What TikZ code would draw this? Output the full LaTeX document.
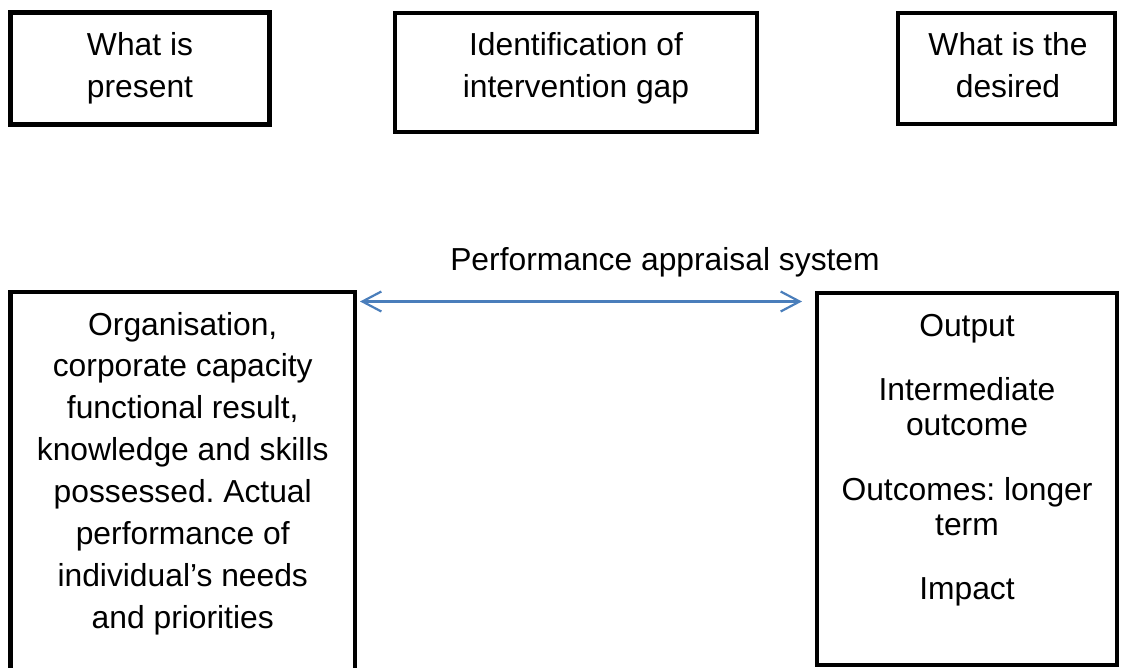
\documentclass[tikz,border=0pt]{standalone}
\usepackage{fontspec}
\setmainfont{Liberation Sans}
\usetikzlibrary{arrows.meta}
\definecolor{arrowblue}{HTML}{4A7EBB}
\frenchspacing
\begin{document}
\begin{tikzpicture}[x=1pt,y=-1pt,
  box/.style={draw=black, line width=4.5pt, inner sep=0pt, outer sep=0pt},
  txt/.style={inner sep=0pt, anchor=base, font=\fontsize{31.8}{42}\selectfont\frenchspacing},
  txtr/.style={inner sep=0pt, anchor=base, font=\fontsize{31.8}{35}\selectfont\frenchspacing},
  arr/.style={draw=arrowblue, line width=2.2pt,
    {Straight Barb[length=19pt,width=20pt]}-{Straight Barb[length=19pt,width=20pt]}}]
\useasboundingbox (0,0) rectangle (1121,667);
\clip (0,0) rectangle (1121,667);
% top row
\node[box, minimum width=259pt, minimum height=112pt] (present) at (140,68.5) {};
\node[txt] (presentT) at (140,55) {\begin{tabular}[t]{@{}c@{}}What is\\present\end{tabular}};
\node[box, minimum width=362pt, minimum height=119pt] (gap) at (576,72.5) {};
\node[txt] (gapT) at (576,55) {\begin{tabular}[t]{@{}c@{}}Identification of\\intervention gap\end{tabular}};
\node[box, minimum width=217pt, minimum height=111pt] (desired) at (1006.5,68.5) {};
\node[txt] (desiredT) at (1008,55) {\begin{tabular}[t]{@{}c@{}}What is the\\desired\end{tabular}};
% label
\node[txt] (pas) at (665,270) {Performance appraisal system};
% bottom row
\node[box, minimum width=344.5pt, minimum height=428pt] (leftbox) at (182.75,506) {};
\node[txt, font=\fontsize{31.8}{41.9}\selectfont\frenchspacing] (leftT) at (182.75,335) {\begin{tabular}[t]{@{}c@{}}Organisation,\\corporate capacity\\functional result,\\knowledge and skills\\possessed. Actual\\performance of\\individual’s needs\\and priorities\end{tabular}};
\node[box, minimum width=300pt, minimum height=372pt] (rightbox) at (967,479) {};
\node[txtr] (rightT) at (967,336) {\begin{tabular}[t]{@{}c@{}}Output\\[29.5pt]Intermediate\\outcome\\[29.5pt]Outcomes: longer\\term\\[29.5pt]Impact\end{tabular}};
% connector
\draw[arr] ([xshift=5pt,yshift=-9.5pt]leftbox.north east) -- ([xshift=-15pt,yshift=-8.5pt]rightbox.north west);
\end{tikzpicture}
\end{document}
